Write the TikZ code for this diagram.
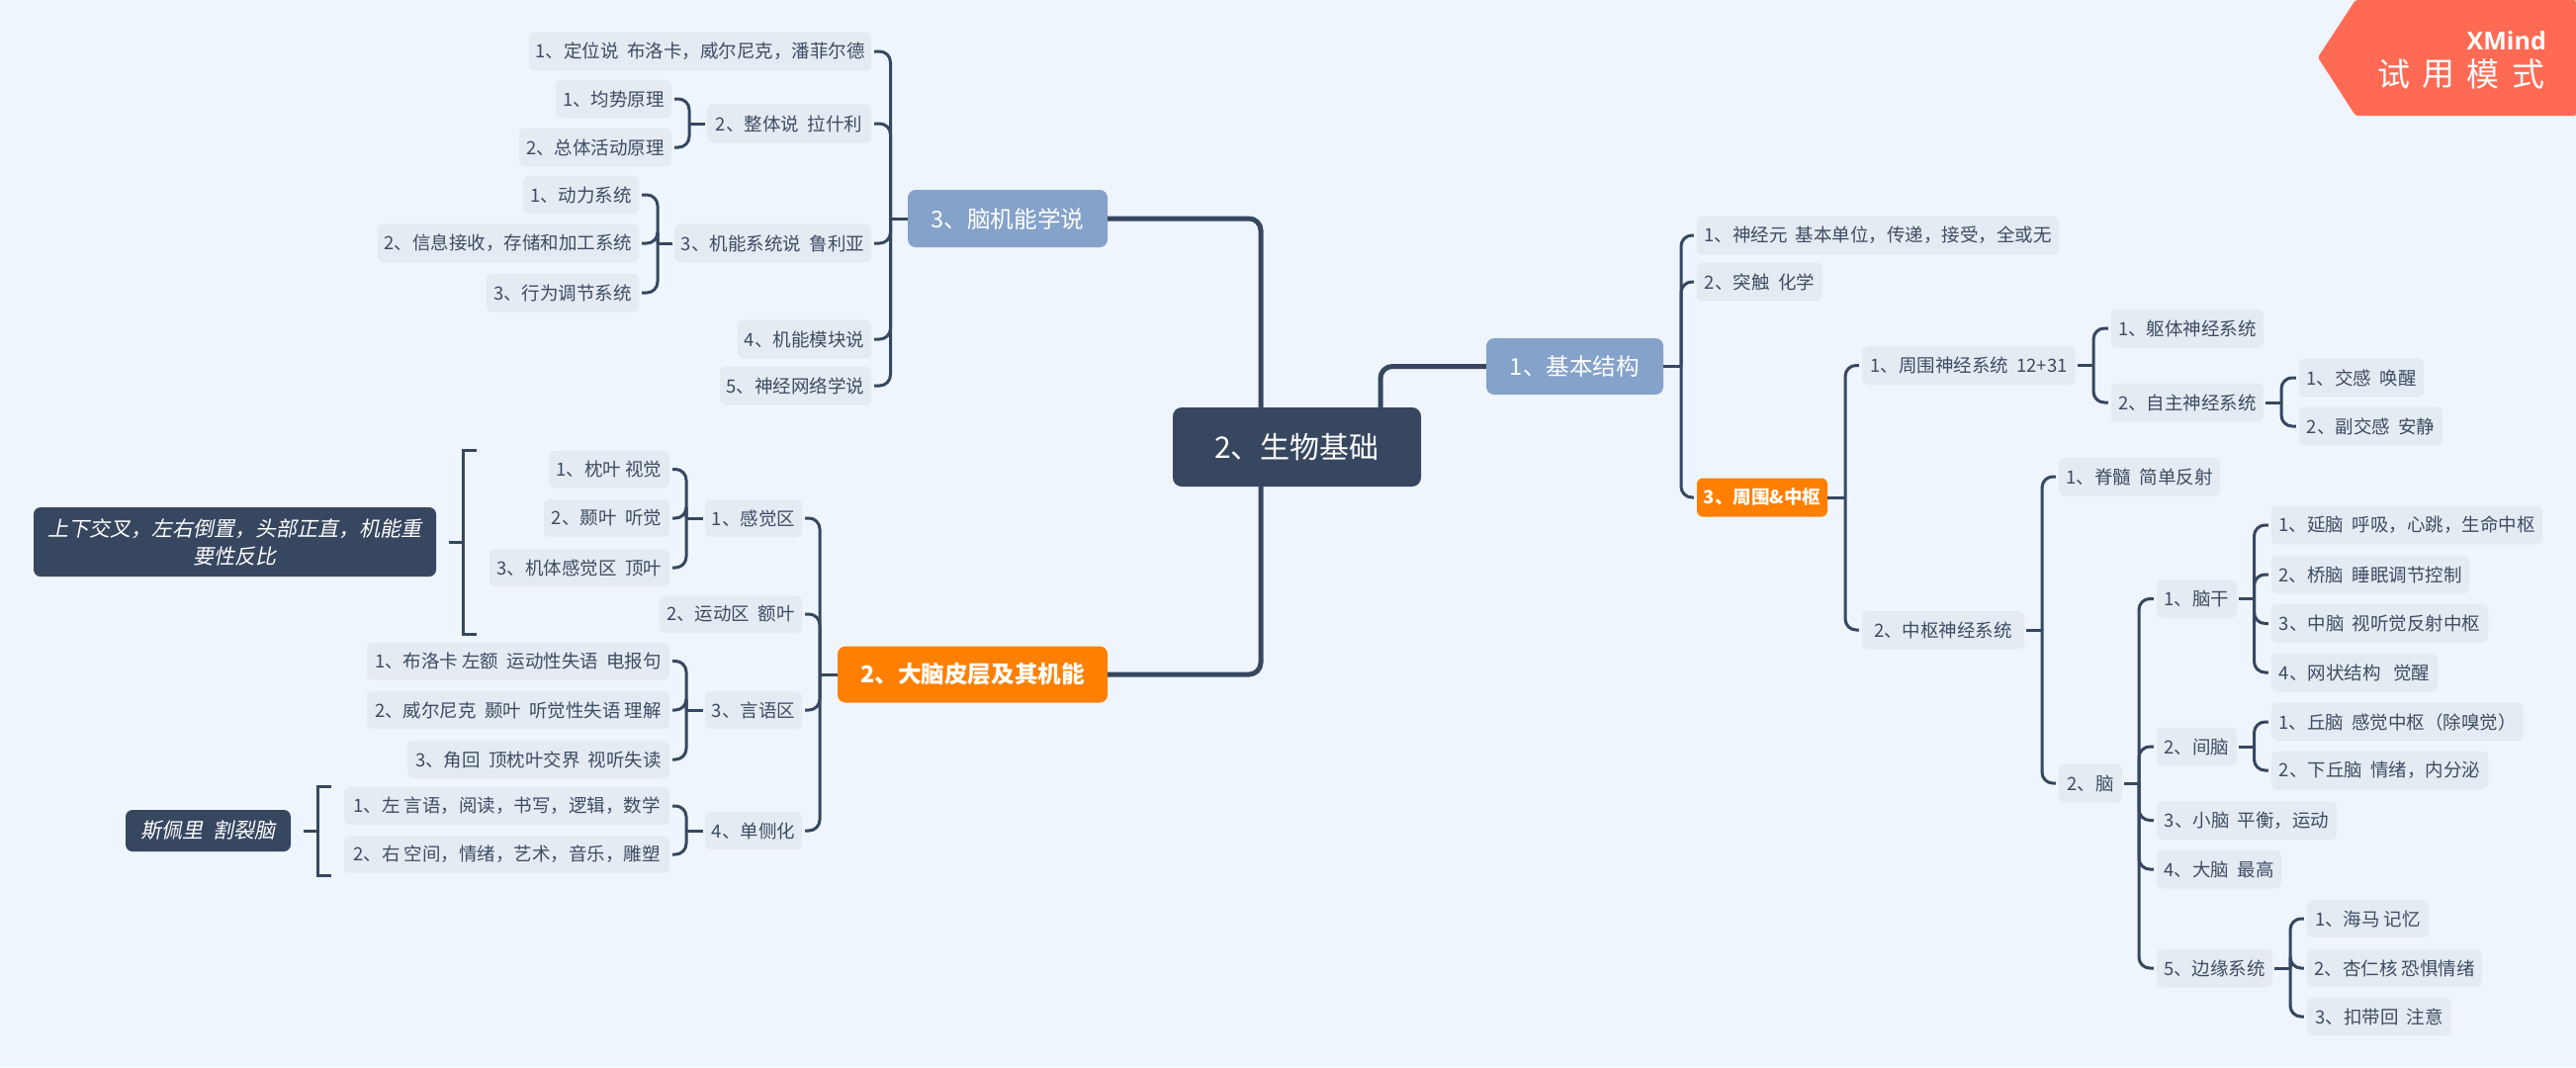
\documentclass[tikz,border=0pt]{standalone}
\usepackage{fontspec}
\setmainfont{Noto Sans CJK SC}
\newfontfamily\slantcjk[FakeSlant=0.2]{Noto Sans CJK SC}
\newfontfamily\brandfont{Open Sans}
\definecolor{pagebg}{HTML}{EEF5FC}
\definecolor{leaffill}{HTML}{E5EBF3}
\definecolor{inktext}{HTML}{3D4C62}
\definecolor{navy}{HTML}{374760}
\definecolor{steelblue}{HTML}{84A2CA}
\definecolor{brandorange}{HTML}{FF7F00}
\definecolor{badge}{HTML}{FF6A55}
\tikzset{
  x=1pt,y=-1pt,
  boxbase/.style={rounded corners=6pt,inner sep=0pt,align=center},
  leaf/.style={boxbase,fill=leaffill,text=inktext,font=\fontsize{18.5}{22}\selectfont},
  rootbox/.style={boxbase,rounded corners=9pt,fill=navy,text=white,font=\fontsize{30}{36}\selectfont},
  mainblue/.style={boxbase,rounded corners=8pt,fill=steelblue,text=white,font=\fontsize{23.6}{28}\selectfont},
  mainorange/.style={boxbase,rounded corners=8pt,fill=brandorange,text=white,font=\fontsize{23.6}{28}\selectfont\bfseries},
  suborange/.style={boxbase,fill=brandorange,text=white,font=\fontsize{18.5}{22}\selectfont\bfseries},
  notebox/.style={boxbase,rounded corners=7pt,fill=navy,text=white,font=\fontsize{21}{28}\slantcjk},
  link/.style={draw=navy,line width=3pt,rounded corners=11pt},
  trunk/.style={draw=navy,line width=5pt,rounded corners=12pt},
}
% box given by left edge, right edge, vertical centre and height
\newcommand{\bx}[7][leaf]{\node[#1,minimum width={#4-#3},minimum height=#6] (#2) at ({(#3+#4)/2},#5) {#7};}
% left-hand child: child's east side runs over to the bus and along it to the parent's level
\newcommand{\lkL}[3]{\draw[link,shorten <=3pt] (#1.east) -- (#3 |- #1.east) -- (#3 |- #2.west);}
% right-hand child, mirrored
\newcommand{\lkR}[3]{\draw[link,shorten <=3pt] (#1.west) -- (#3 |- #1.west) -- (#3 |- #2.east);}
\newcommand{\stL}[3][2pt]{\draw[link,shorten <=#1] (#2.west) -- (#3 |- #2.west);}
\newcommand{\stR}[3][2pt]{\draw[link,shorten <=#1] (#2.east) -- (#3 |- #2.east);}
\begin{document}
\begin{tikzpicture}
\useasboundingbox (0,0) rectangle (2605,1079);
\fill[pagebg] (0,0) rectangle (2605,1079);

% trial badge
\fill[badge,rounded corners=2pt] (2344,58) -- (2382,0) -- (2605,0) -- (2605,117) -- (2382,117) -- cycle;
\node[anchor=east,inner sep=0pt,text=white,font=\fontsize{25}{30}\brandfont\bfseries] (brand) at (2575,41) {XMind};
\node[inner sep=0pt,text=white,font=\fontsize{33}{36}\selectfont] (try1) at (2421,75) {试};
\node[inner sep=0pt,text=white,font=\fontsize{33}{36}\selectfont] (try2) at (2466,75) {用};
\node[inner sep=0pt,text=white,font=\fontsize{33}{36}\selectfont] (try3) at (2511,75) {模};
\node[inner sep=0pt,text=white,font=\fontsize{33}{36}\selectfont] (try4) at (2557,75) {式};

% root and main topics
\bx[rootbox]{root}{1186}{1437}{452}{80}{2、生物基础}
\bx[mainblue]{basic}{1503}{1682}{370.5}{57}{1、基本结构}
\bx[mainblue]{theory}{918}{1120}{221}{58}{3、脑机能学说}
\bx[mainorange]{cortex}{847}{1120}{682}{57}{2、大脑皮层及其机能}

% topic: brain function theories
\bx{t1}{535}{881}{52}{39}{1、定位说~~布洛卡，威尔尼克，潘菲尔德}
\bx{t2}{715}{881}{125}{39}{2、整体说~~拉什利}
\bx{t21}{562}{679}{100}{39}{1、均势原理}
\bx{t22}{525}{679}{149}{39}{2、总体活动原理}
\bx{t3}{682}{881}{246}{39}{3、机能系统说~~鲁利亚}
\bx{t31}{529}{646}{197}{39}{1、动力系统}
\bx{t32}{382}{646}{246}{39}{2、信息接收，存储和加工系统}
\bx{t33}{492}{646}{296}{39}{3、行为调节系统}
\bx{t4}{746}{881}{343}{39}{4、机能模块说}
\bx{t5}{728}{881}{390}{39}{5、神经网络学说}

% topic: cerebral cortex
\bx{c1}{713}{811}{524}{38}{1、感觉区}
\bx{c11}{555}{677}{474.5}{38}{1、枕叶 视觉}
\bx{c12}{550}{677}{524}{38}{2、颞叶~~听觉}
\bx{c13}{495}{677}{574}{38}{3、机体感觉区~~顶叶}
\bx{c2}{667}{811}{621}{38}{2、运动区~~额叶}
\bx{c3}{713}{811}{718}{38}{3、言语区}
\bx{c31}{371}{677}{668.5}{38}{1、布洛卡 左额~~运动性失语~~电报句}
\bx{c32}{371}{677}{718}{38}{2、威尔尼克~~颞叶~~听觉性失语 理解}
\bx{c33}{412}{677}{768}{38}{3、角回~~顶枕叶交界~~视听失读}
\bx{c4}{713}{811}{840}{38}{4、单侧化}
\bx{c41}{348}{677}{815}{38}{1、左 言语，阅读，书写，逻辑，数学}
\bx{c42}{348}{677}{864}{38}{2、右 空间，情绪，艺术，音乐，雕塑}
\bx[notebox]{noteA}{34}{441}{548}{70}{上下交叉，左右倒置，头部正直，机能重\\要性反比}
\bx[notebox]{noteB}{127}{294}{840}{42}{斯佩里~~割裂脑}

% topic: basic structure
\bx{b1}{1716}{2082}{238}{39}{1、神经元~~基本单位，传递，接受，全或无}
\bx{b2}{1716}{1843}{285}{39}{2、突触~~化学}
\bx[suborange]{b3}{1716}{1848}{503}{39}{3、周围\&中枢}
\bx{p}{1883}{2099}{369.5}{39}{1、周围神经系统~~12+31}
\bx{p1}{2135}{2289}{332}{39}{1、躯体神经系统}
\bx{p2}{2135}{2289}{407}{39}{2、自主神经系统}
\bx{p21}{2325}{2451}{382}{39}{1、交感~~唤醒}
\bx{p22}{2325}{2470}{431}{39}{2、副交感~~安静}
\bx{z}{1883}{2047}{637}{39}{2、中枢神经系统}
\bx{z1}{2082}{2245}{482}{39}{1、脊髓~~简单反射}
\bx{z2}{2082}{2146}{792}{39}{2、脑}
\bx{g1}{2181}{2262}{605.5}{39}{1、脑干}
\bx{g11}{2297}{2571}{531}{39}{1、延脑~~呼吸，心跳，生命中枢}
\bx{g12}{2297}{2497}{581}{39}{2、桥脑~~睡眠调节控制}
\bx{g13}{2297}{2516}{630.5}{39}{3、中脑~~视听觉反射中枢}
\bx{g14}{2297}{2465}{680}{39}{4、网状结构~~~觉醒}
\bx{g2}{2181}{2262}{755}{39}{2、间脑}
\bx{g21}{2297}{2552}{730}{39}{1、丘脑~~感觉中枢（除嗅觉）}
\bx{g22}{2297}{2516}{779}{39}{2、下丘脑~~情绪，内分泌}
\bx{g3}{2181}{2363}{829.5}{39}{3、小脑~~平衡，运动}
\bx{g4}{2181}{2307}{879}{39}{4、大脑~~最高}
\bx{g5}{2181}{2298}{979}{39}{5、边缘系统}
\bx{g51}{2333}{2456}{929}{38}{1、海马 记忆}
\bx{g52}{2333}{2510}{979}{38}{2、杏仁核 恐惧情绪}
\bx{g53}{2333}{2479}{1028}{38}{3、扣带回~~注意}

% vertical buses
\coordinate (busT) at (900.5,0);
\coordinate (busT2) at (697,0);
\coordinate (busT3) at (665,0);
\coordinate (busC) at (829,0);
\coordinate (busCk) at (694,0);
\coordinate (busB) at (1700,0);
\coordinate (busN) at (1866,0);
\coordinate (busP) at (2117,0);
\coordinate (busP2) at (2307,0);
\coordinate (busZ) at (2065,0);
\coordinate (busG) at (2163,0);
\coordinate (busGs) at (2279.5,0);
\coordinate (busL) at (2316,0);

% trunk lines from the root
\draw[trunk] (root.north -| 1275,452) -- (1275,221) -- (theory.east);
\draw[trunk] (root.south -| 1275,452) -- (1275,682) -- (cortex.east);
\draw[trunk] (root.north -| 1396,452) -- (1396,370.5) -- (basic.west);

% theory branches
\stL[0pt]{theory}{busT}
\lkL{t1}{theory}{busT} \lkL{t2}{theory}{busT} \lkL{t3}{theory}{busT} \lkL{t4}{theory}{busT} \lkL{t5}{theory}{busT}
\stL{t2}{busT2} \lkL{t21}{t2}{busT2} \lkL{t22}{t2}{busT2}
\stL{t3}{busT3} \lkL{t31}{t3}{busT3} \lkL{t32}{t3}{busT3} \lkL{t33}{t3}{busT3}

% cortex branches
\stL[0pt]{cortex}{busC}
\lkL{c1}{cortex}{busC} \lkL{c2}{cortex}{busC} \lkL{c3}{cortex}{busC} \lkL{c4}{cortex}{busC}
\stL{c1}{busCk} \lkL{c11}{c1}{busCk} \lkL{c12}{c1}{busCk} \lkL{c13}{c1}{busCk}
\stL{c3}{busCk} \lkL{c31}{c3}{busCk} \lkL{c32}{c3}{busCk} \lkL{c33}{c3}{busCk}
\stL{c4}{busCk} \lkL{c41}{c4}{busCk} \lkL{c42}{c4}{busCk}

% square brackets tying notes to their groups
\coordinate (brA) at (468,548);
\coordinate (brB) at (321,840);
\draw[link,sharp corners,shorten <=13pt] (noteA.east) -- (brA);
\draw[link,sharp corners] (482,455) -- (468,455) -- (468,641) -- (482,641);
\draw[link,sharp corners,shorten <=13pt] (noteB.east) -- (brB);
\draw[link,sharp corners] (335,795) -- (321,795) -- (321,885) -- (335,885);

% basic-structure branches
\stR[0pt]{basic}{busB}
\lkR{b1}{basic}{busB} \lkR{b2}{basic}{busB} \lkR{b3}{basic}{busB}
\stR[0pt]{b3}{busN}
\lkR{p}{b3}{busN} \lkR{z}{b3}{busN}
\stR{p}{busP} \lkR{p1}{p}{busP} \lkR{p2}{p}{busP}
\stR{p2}{busP2} \lkR{p21}{p2}{busP2} \lkR{p22}{p2}{busP2}
\stR{z}{busZ} \lkR{z1}{z}{busZ} \lkR{z2}{z}{busZ}
\stR{z2}{busG} \lkR{g1}{z2}{busG} \lkR{g2}{z2}{busG} \lkR{g3}{z2}{busG} \lkR{g4}{z2}{busG} \lkR{g5}{z2}{busG}
\stR{g1}{busGs} \lkR{g11}{g1}{busGs} \lkR{g12}{g1}{busGs} \lkR{g13}{g1}{busGs} \lkR{g14}{g1}{busGs}
\stR{g2}{busGs} \lkR{g21}{g2}{busGs} \lkR{g22}{g2}{busGs}
\stR{g5}{busL} \lkR{g51}{g5}{busL} \lkR{g52}{g5}{busL} \lkR{g53}{g5}{busL}
\end{tikzpicture}
\end{document}
